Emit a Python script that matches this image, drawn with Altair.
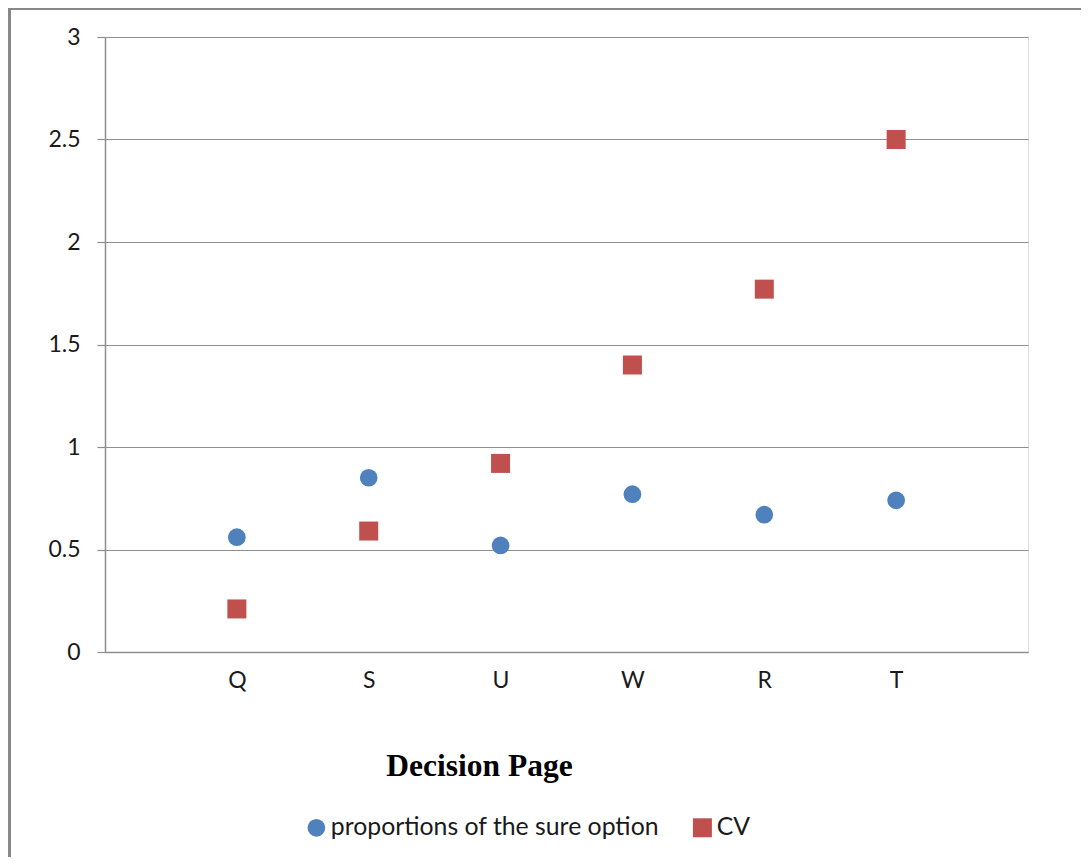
import altair as alt
import pandas as pd

categories = ["Q", "S", "U", "W", "R", "T"]
proportions = [0.56, 0.85, 0.52, 0.77, 0.67, 0.74]
cv = [0.21, 0.59, 0.92, 1.40, 1.77, 2.50]
series_names = ["proportions of the sure option", "CV"]
y_ticks = [0, 0.5, 1, 1.5, 2, 2.5, 3]

rows = []
for c, p, v in zip(categories, proportions, cv):
    rows.append({"page": c, "series": series_names[0], "value": p})
    rows.append({"page": c, "series": series_names[1], "value": v})
df = pd.DataFrame(rows)

FONT = "Lato"
GRID = "#8e8e8e"

points = alt.Chart(df).mark_point(filled=True, opacity=1).encode(
    x=alt.X("page:O", sort=categories,
            scale=alt.Scale(type="point", padding=1),
            axis=alt.Axis(title="Decision Page", labelAngle=0, ticks=False,
                          grid=False, domainColor=GRID, domainWidth=1.5,
                          labelFont=FONT, labelFontSize=23, labelColor="#1a1a1a",
                          labelPadding=17,
                          titleFont="Liberation Serif", titleFontSize=31.5,
                          titleFontWeight="bold", titleColor="#000000",
                          titleX=374, titleY=123, titleAlign="center",
                          titleBaseline="alphabetic")),
    y=alt.Y("value:Q", scale=alt.Scale(domain=[0, 3], nice=False),
            axis=alt.Axis(title=None, values=y_ticks, format=".1~f",
                          grid=True, gridColor=GRID, gridWidth=1.2,
                          domainColor=GRID, domainWidth=1.5,
                          tickColor=GRID, tickSize=8, tickWidth=1.2,
                          labelFont=FONT, labelFontSize=23, labelColor="#1a1a1a",
                          labelPadding=17)),
    color=alt.Color("series:N",
                    scale=alt.Scale(domain=series_names, range=["#4F81BD", "#C0504D"]),
                    legend=alt.Legend(title=None, orient="none", direction="horizontal",
                                      legendX=199, legendY=778,
                                      labelFont=FONT, labelFontSize=24.8, labelLimit=0,
                                      labelColor="#1a1a1a", symbolSize=240,
                                      symbolStrokeWidth=0, columnPadding=30,
                                      labelOffset=2)),
    shape=alt.Shape("series:N",
                    scale=alt.Scale(domain=series_names, range=["circle", "square"])),
    size=alt.Size("series:N",
                  scale=alt.Scale(domain=series_names, range=[314, 361]),
                  legend=None),
)

border_df = pd.DataFrame({"k": [0]})
top_border = alt.Chart(border_df).mark_rule(color="#888888", strokeWidth=3).encode(
    x=alt.value(-96), x2=alt.value(1100), y=alt.value(-28.5))
left_border = alt.Chart(border_df).mark_rule(color="#888888", strokeWidth=3).encode(
    x=alt.value(-95.5), y=alt.value(-30), y2=alt.value(900))

chart = alt.layer(top_border, left_border, points).properties(
    width=923, height=615,
    autosize=alt.AutoSizeParams(type="none"),
    padding={"left": 97, "top": 29, "right": 53, "bottom": 205},
).configure_view(stroke=None).configure(background="white")

chart.save("out.html", embed_options={"renderer": "svg", "actions": False})
